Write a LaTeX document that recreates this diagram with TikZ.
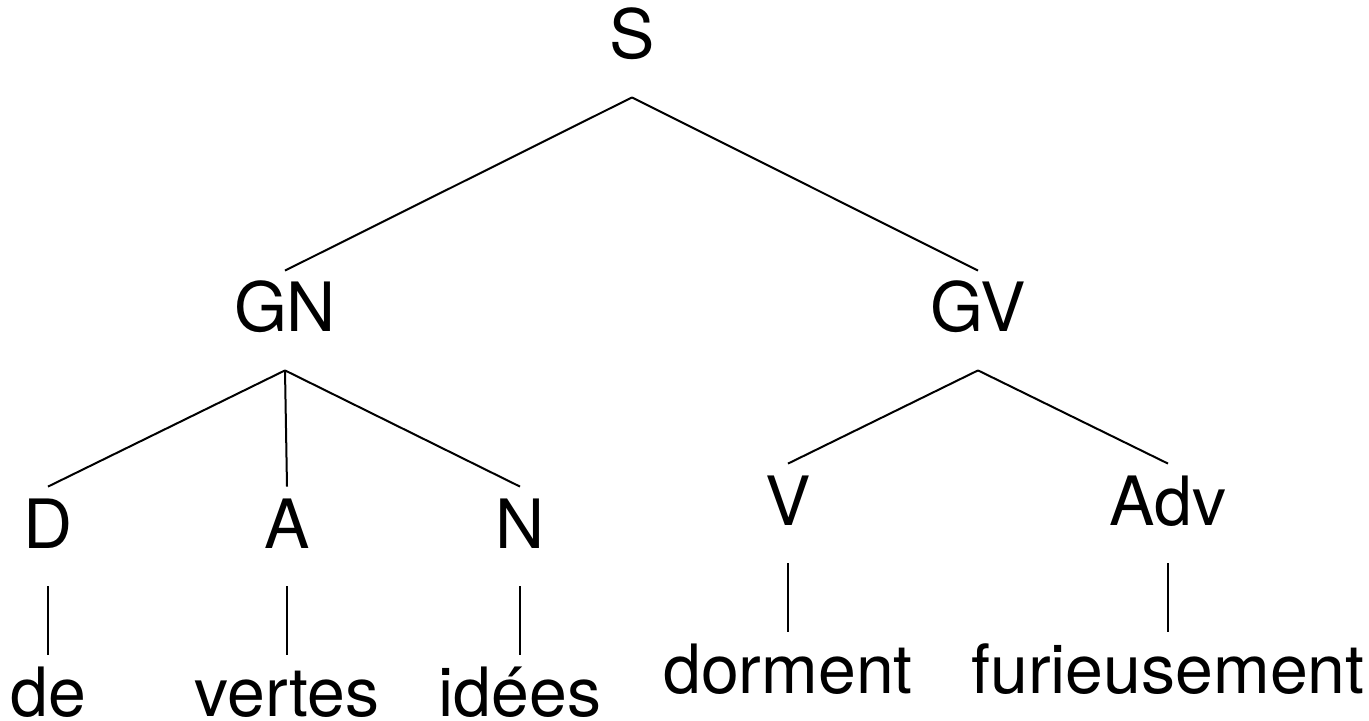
\documentclass[tikz,border=0pt]{standalone}
\usepackage{fontspec}
\setmainfont{TeX Gyre Heros}
\usetikzlibrary{positioning}

\begin{document}
\begin{tikzpicture}[
  x=0.5pt, y=-0.5pt,
  node distance=34.5pt,
  cat/.style={inner xsep=0pt, inner ysep=6pt, text height=24.5pt, text depth=13pt,
              font=\fontsize{34}{40}\selectfont},
  word/.style={inner sep=0pt, text height=30.5pt, text depth=0pt,
               font=\fontsize{34}{40}\selectfont},
  br/.style={line width=1pt}
]
  \useasboundingbox (0,0) rectangle (1369,721);

  % categories
  \node[cat, anchor=base] (S)   at (632,59)   {S};
  \node[cat, anchor=base] (GN)  at (285,332)  {GN};
  \node[cat, anchor=base] (GV)  at (978,332)  {GV};
  \node[cat, anchor=base] (D)   at (48,548)   {D};
  \node[cat, anchor=base] (A)   at (287,548)  {A};
  \node[cat, anchor=base] (N)   at (520,548)  {N};
  \node[cat, anchor=base] (V)   at (788,525)  {V};
  \node[cat, anchor=base] (Adv) at (1168,525) {Adv};

  % words
  \node[word, below=of D]   (de)           {de};
  \node[word, below=of A]   (vertes)       {vertes};
  \node[word, below=of N]   (idees)        {idées};
  \node[word, below=of V]   (dorment)      {dorment};
  \node[word, below=of Adv] (furieusement) {furieusement};

  % branches
  \foreach \a/\b in {S/GN, S/GV, GN/D, GN/A, GN/N, GV/V, GV/Adv,
                     D/de, A/vertes, N/idees, V/dorment, Adv/furieusement}
    \draw[br] (\a.south) -- (\b.north);
\end{tikzpicture}
\end{document}
